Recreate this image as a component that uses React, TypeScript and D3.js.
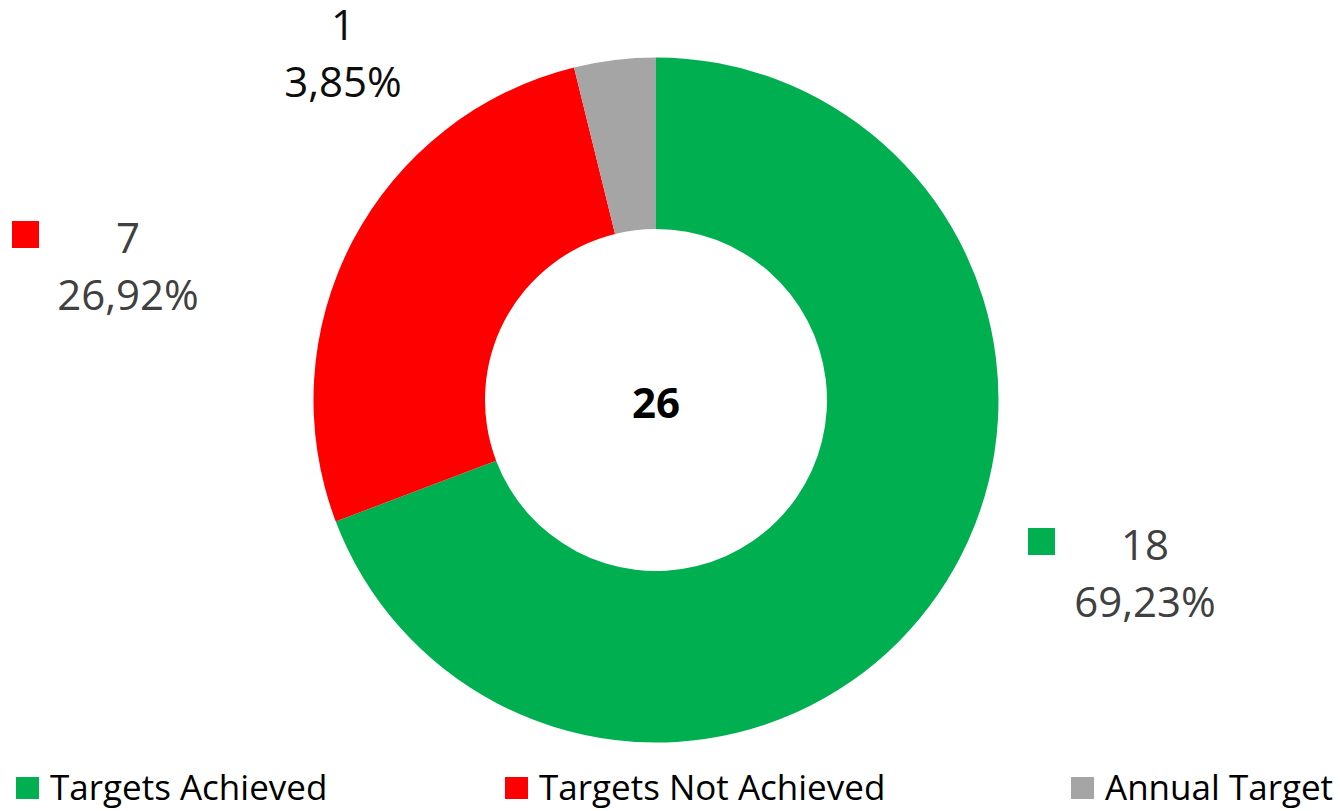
import React, { useEffect, useRef } from 'react';
import * as d3 from 'd3';

const categories = ['Targets Achieved', 'Targets Not Achieved', 'Annual Target'];
const values = [18, 7, 1];
const percentLabels = ['69,23%', '26,92%', '3,85%'];
const colors = ['#00B050', '#FF0000', '#A5A5A5'];
const totalLabel = '26';

export default function App() {
  const svgRef = useRef<SVGSVGElement>(null);
  const width = 1340;
  const height = 811;
  const cx = 656;
  const cy = 400;
  const outerR = 342.5;
  const innerR = 171;

  // where Excel dropped each data label (centre x, baseline of first line)
  const labelPos = [
    { x: 1145, y: 560, key: true, color: '#404040' },
    { x: 128, y: 253, key: true, color: '#404040' },
    { x: 343, y: 40, key: false, color: '#0d0d0d' },
  ];
  const legendX = [16, 505, 1071];

  useEffect(() => {
    const svg = d3.select(svgRef.current);
    svg.selectAll('*').remove();
    svg.attr('width', width).attr('height', height);

    const pie = d3.pie<number>().sort(null).value((d) => d);
    const arcs = pie(values);
    const arc = d3.arc<d3.PieArcDatum<number>>().innerRadius(innerR).outerRadius(outerR);

    const g = svg.append('g').attr('transform', `translate(${cx},${cy})`);
    g.selectAll('path')
      .data(arcs)
      .enter()
      .append('path')
      .attr('d', arc)
      .attr('fill', (_, i) => colors[i]);

    // total au centre
    g.append('text')
      .attr('x', 0)
      .attr('y', 18)
      .attr('text-anchor', 'middle')
      .attr('font-family', '"Open Sans", sans-serif')
      .attr('font-weight', 'bold')
      .attr('font-size', '42px')
      .attr('fill', '#000')
      .text(totalLabel);

    // étiquettes de données
    const labels = svg.selectAll('g.lbl').data(arcs).enter().append('g').attr('class', 'lbl');
    labels.each(function (d, i) {
      const p = labelPos[i];
      const sel = d3.select(this);
      sel
        .append('text')
        .attr('x', p.x)
        .attr('y', p.y)
        .attr('text-anchor', 'middle')
        .attr('font-family', '"Open Sans", sans-serif')
        .attr('font-size', '42px')
        .attr('fill', p.color)
        .text(d.data);
      sel
        .append('text')
        .attr('x', p.x)
        .attr('y', p.y + 57)
        .attr('text-anchor', 'middle')
        .attr('font-family', '"Open Sans", sans-serif')
        .attr('font-size', '42px')
        .attr('fill', p.color)
        .text(percentLabels[i]);
      if (p.key) {
        const w = 27;
        const kx = i === 0 ? p.x - 117 : p.x - 116;
        sel
          .append('rect')
          .attr('x', kx)
          .attr('y', p.y - 32)
          .attr('width', w)
          .attr('height', w)
          .attr('fill', colors[i]);
      }
    });

    // légende
    const legend = svg.selectAll('g.leg').data(categories).enter().append('g').attr('class', 'leg');
    legend
      .append('rect')
      .attr('x', (_, i) => legendX[i])
      .attr('y', 777)
      .attr('width', 23)
      .attr('height', 22)
      .attr('fill', (_, i) => colors[i]);
    legend
      .append('text')
      .attr('x', (_, i) => legendX[i] + 34)
      .attr('y', 800)
      .attr('font-family', '"Open Sans", sans-serif')
      .attr('font-size', '35px')
      .attr('fill', '#000')
      .text((d) => d);
  }, []);

  return (
    <div style={{ position: 'absolute', left: 0, top: 0, background: '#fff' }}>
      <svg ref={svgRef} style={{ display: 'block' }}></svg>
    </div>
  );
}
